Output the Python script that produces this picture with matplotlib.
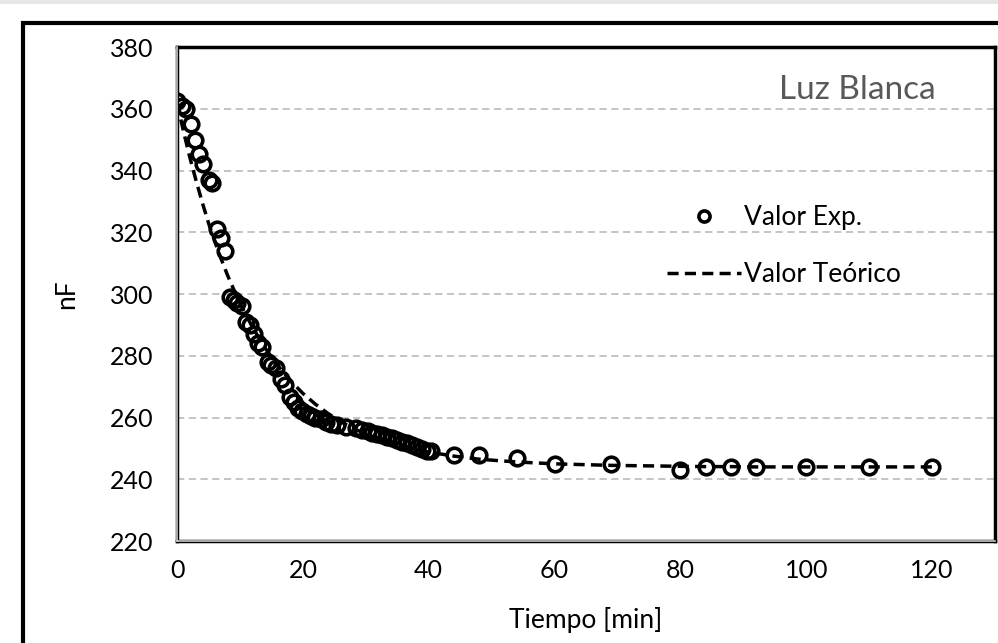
import matplotlib
matplotlib.use("Agg")
import matplotlib.pyplot as plt
from matplotlib.patches import Rectangle

plt.rcParams['font.family'] = ['Lato', 'DejaVu Sans']

# valores experimentales
t_exp = [0, 0.8, 1.5, 2.2, 2.8, 3.5, 4.1, 5.0, 5.6, 6.4, 7.0, 7.7, 8.4, 9.0, 9.6,
         10.3, 11.0, 11.6, 12.3, 12.9, 13.5, 14.4, 15.0, 15.8, 16.5, 17.2, 18.0,
         18.6, 19.2, 19.9, 20.6, 21.3, 22.0, 22.8, 23.6, 24.4, 25.5, 26.8, 28.4,
         29.4, 30.3, 31.0, 31.8, 32.6, 33.4, 34.2, 35.0, 35.8, 36.6, 37.4, 38.2,
         39.0, 39.8, 40.4, 44, 48, 54, 60, 69, 80, 84, 88, 92, 100, 110, 120]
n_exp = [362.5, 361, 360, 355, 350, 345.5, 342, 337, 336, 321, 318, 314, 299, 298, 297,
         296, 291, 290, 287, 284, 283, 278, 277, 276, 272.5, 270.5, 266.5,
         265, 263, 262, 261, 260.5, 260, 259.5, 258.5, 258, 257.5, 257, 256.5,
         256, 255.5, 255, 254.7, 254.3, 253.8, 253.3, 252.8, 252.2, 251.6, 251, 250.3,
         249.7, 249.2, 249, 248, 248, 247, 245, 245, 243, 244, 244, 244, 244, 244, 244]

# valores teoricos
t_teo = [0, 1, 2, 3, 4, 5, 6, 7, 8, 9, 10, 12, 14, 16, 18, 20, 22, 24, 26, 28, 30,
         32, 34, 36, 38, 40, 44, 48, 54, 60, 69, 80, 84, 88, 92, 100, 110, 120]
n_teo = [362, 352.9, 344.5, 336.9, 329.7, 323, 317, 311.4, 306.2, 301.5, 297, 289.2,
         282.5, 276.8, 272, 267.8, 264.3, 261.3, 258.7, 256.5, 254.7, 253.1, 251.8,
         250.6, 249.6, 248.8, 247.5, 246.5, 245.6, 245, 244.5, 244.2, 244.1, 244.1,
         244, 244, 244, 244]

fig = plt.figure(figsize=(9.98, 6.43), dpi=100)
ax = fig.add_axes([0.1774, 0.1586, 0.8196, 0.7683])

ax.plot(t_exp, n_exp, 'o', ms=10.5, mfc='none', mec='black', mew=2.6,
        label='Valor Exp.', zorder=3)
ax.plot(t_teo, n_teo, color='black', lw=2.5, dashes=(3.2, 1.8),
        label='Valor Teórico', zorder=4)

ax.set_xlim(0, 130)
ax.set_ylim(220, 380)
ax.set_xticks(range(0, 121, 20))
ax.set_yticks(range(220, 381, 20))
ax.tick_params(length=0, labelsize=18)
ax.tick_params(axis='y', pad=17)
ax.tick_params(axis='x', pad=13)
ax.grid(axis='y', color='#bfbfbf', ls=(0, (4, 2.5)), lw=1.3)
ax.set_axisbelow(True)

for s in ax.spines.values():
    s.set_color('black')
    s.set_linewidth(2.5)
# linea gris interior estilo Excel
ax.plot([0, 0], [0, 1], color='#c8c8c8', lw=1.2, transform=ax.transAxes,
        clip_on=False, zorder=5)
ax.plot([0, 1], [0, 0], color='#c8c8c8', lw=1.2, transform=ax.transAxes,
        clip_on=False, zorder=5)

ax.set_xlabel('Tiempo [min]', fontsize=19, labelpad=18)
ax.set_ylabel('nF', fontsize=19, labelpad=22)

ax.text(0.927, 0.913, 'Luz Blanca', transform=ax.transAxes, fontsize=24,
        color='#595959', ha='right', va='center')

leg = ax.legend(loc='upper left', bbox_to_anchor=(0.599, 0.68), frameon=False,
                fontsize=19, handlelength=2.8, handletextpad=0.1, labelspacing=1.2,
                borderpad=0, borderaxespad=0)
leg.legend_handles[0].set_markersize(8)

# marco exterior
fig.patches.append(Rectangle((23 / 998, -0.1), 1.2, 1.1 - 23 / 643,
                             transform=fig.transFigure, fill=False,
                             ec='black', lw=3))
fig.patches.append(Rectangle((0, 1 - 4 / 643), 1, 4 / 643, transform=fig.transFigure,
                             color='#e6e6e6', lw=0))

fig.savefig('out.png', dpi=100)
